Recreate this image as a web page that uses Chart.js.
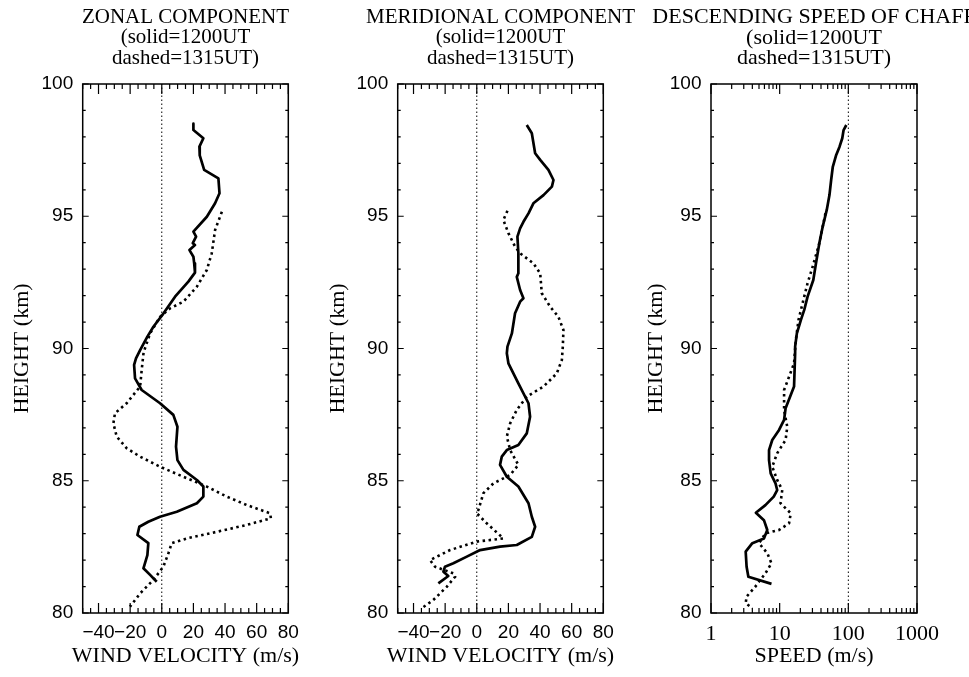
<!DOCTYPE html>
<html>
<head>
<meta charset="utf-8">
<script src="https://cdn.jsdelivr.net/npm/chart.js@4.4.1/dist/chart.umd.min.js"></script>
<style>
  html, body { margin: 0; padding: 0; background: #fff; overflow: hidden; width: 969px; height: 677px; }
  canvas { position: absolute; top: 0; }
</style>
</head>
<body>
<canvas id="zonal" width="371" height="677" style="left:0px"></canvas>
<canvas id="merid" width="361" height="677" style="left:320px"></canvas>
<canvas id="speed" width="348" height="677" style="left:640px"></canvas>
<script>
// heights in km, winds in m/s
var heightRange = [80, 100];
var windRange = [-50, 80];
var speedRange = [1, 1000];
var windRef = 0;
var speedRef = 100;

var zonalSolidH = [98.5, 98.26, 97.95, 97.63, 97.3, 96.75, 96.43, 95.87, 95.49, 94.98, 94.42, 94.23, 93.98, 93.91, 93.72, 93.47, 93.22, 92.87, 92.53, 91.96, 91.32, 90.82, 90.45, 89.94, 89.63, 89.38, 88.87, 88.43, 87.93, 87.49, 87.04, 86.29, 85.78, 85.41, 85.03, 84.78, 84.4, 84.15, 83.83, 83.64, 83.45, 83.26, 82.95, 82.64, 82.19, 81.69, 81.44, 81.18];
var zonalSolidV = [20, 20, 26.3, 23.8, 24, 26.8, 35.8, 36.5, 33.7, 28.5, 20, 21.7, 19.6, 21, 17.5, 20, 20.5, 21, 16.8, 8.4, 1, -5.3, -9.1, -13.7, -16.3, -17.5, -16.9, -12.7, -1.1, 7.3, 9.9, 9, 9.9, 13.7, 22.2, 26.3, 26.3, 22.2, 9.5, -1.1, -8.5, -14.2, -15.4, -8.5, -9.1, -11.6, -7.4, -3.2];
var zonalDashH = [95.17, 94.48, 93.6, 92.97, 92.34, 91.77, 91.52, 91.2, 90.57, 89.85, 89.19, 88.56, 87.93, 87.55, 87.17, 86.67, 86.23, 85.91, 85.53, 85.15, 84.78, 84.4, 84.08, 83.77, 83.58, 83.33, 83.07, 82.82, 82.64, 82.26, 81.75, 81.25, 80.74, 80.24];
var zonalDashV = [38, 33.7, 31.6, 28.5, 22.2, 13.7, 5.3, -1.1, -7.4, -11.5, -12.7, -13.7, -22.2, -29.6, -30.6, -28.5, -22.2, -13.7, -1.1, 13.7, 28.5, 41.1, 53.8, 68.5, 69, 53.8, 34.8, 15.8, 6.3, 4.2, 1, -5.3, -13.7, -20.1];

var meridSolidH = [98.45, 98.14, 97.38, 97.13, 96.75, 96.37, 96.12, 95.8, 95.49, 95.11, 94.79, 94.54, 94.23, 93.6, 92.84, 92.71, 92.21, 91.9, 91.77, 91.33, 90.57, 90.07, 89.82, 89.44, 88.68, 87.93, 87.42, 86.79, 86.35, 86.16, 85.91, 85.6, 85.15, 84.78, 84.15, 83.64, 83.26, 82.88, 82.57, 82.51, 82.38, 82.13, 81.88, 81.75, 81.56, 81.4, 81.12];
var meridSolidV = [31.6, 34.8, 36.9, 40.1, 45.3, 48.5, 47.5, 42.2, 35.8, 32.7, 29.5, 27.4, 25.7, 26.3, 26.3, 25.3, 27.4, 29.5, 27.4, 24.2, 22.2, 19.4, 19, 20, 26.3, 32.7, 33.7, 31.6, 26.3, 19, 15.8, 14.7, 19, 26.3, 32.7, 34.8, 36.9, 34.8, 25.3, 14.7, 2.1, -6.3, -14.8, -20.1, -21.1, -18, -24.3];
var meridDashH = [95.21, 94.86, 94.36, 93.85, 93.6, 93.22, 92.84, 92.09, 91.58, 91.2, 90.7, 90.07, 89.57, 89.06, 88.56, 88.18, 87.68, 87.17, 86.67, 86.16, 85.6, 85.22, 84.9, 84.53, 83.89, 83.77, 83.39, 82.82, 82.7, 82.38, 82, 81.75, 81.5, 81.37, 80.99, 80.49, 80.18];
var meridDashV = [19.4, 16.8, 20, 24.2, 27.4, 35.8, 40.1, 41.1, 46.4, 51.6, 54.8, 54.4, 53.8, 50.6, 42.2, 31.6, 25.3, 21.1, 19, 21.1, 26.3, 21.1, 10.5, 4.2, 1, 0, 6.3, 16.8, 0, -16.9, -29.6, -26.4, -14.8, -13.7, -19, -27.5, -34.8];

var speedSolidH = [98.45, 98.26, 97.95, 97.63, 97.32, 96.87, 96.37, 95.8, 95.24, 94.6, 93.98, 93.22, 92.59, 91.96, 91.46, 91.08, 90.57, 90.07, 89.82, 88.56, 87.74, 87.3, 86.92, 86.54, 86.16, 85.78, 85.28, 84.9, 84.65, 84.4, 84.08, 83.79, 83.51, 83.14, 82.82, 82.64, 82.32, 81.75, 81.37, 81.1];
var speedSolidV = [93.5, 85.3, 81.6, 74.5, 66.6, 59.4, 56.2, 53.1, 48.5, 42.3, 37.8, 33.8, 30.9, 25.5, 22.8, 20.4, 17.8, 16.8, 16.8, 16.2, 12.2, 11.6, 9.8, 7.8, 7, 7, 7.4, 8.7, 9.2, 8.2, 6.2, 4.5, 5.9, 6.6, 5.9, 4, 3.2, 3.3, 3.5, 7.6];
var speedDashH = [95.11, 94.6, 93.98, 93.09, 92.47, 91.7, 91.08, 90.32, 89.44, 88.93, 88.43, 87.67, 87.04, 86.54, 86.04, 85.53, 85.03, 84.65, 84.15, 83.77, 83.39, 83.14, 83.01, 82.64, 82.26, 81.88, 81.5, 80.99, 80.62, 80.37, 80.18];
var speedDashV = [46.4, 42.3, 37.8, 30.2, 25.5, 21.5, 18.8, 17.2, 16.2, 13.7, 11.6, 11.6, 12.9, 12.2, 9.2, 7.8, 9.2, 10.9, 10.3, 14.5, 13.7, 9.8, 6.2, 5, 6.6, 7.6, 6.2, 4.4, 3.3, 3.2, 4];

var titleLines = ['(solid=1200UT', 'dashed=1315UT)'];

var SERIF = "'Liberation Serif', 'DejaVu Serif', serif";
var SANS = "'Liberation Sans', Arial, sans-serif";

function pairs(xs, ys) {
    return xs.map(function(x, i) { return { x: x, y: ys[i] }; });
}

// box round the plot with ticks pointing inwards, like the old IDL plots
var framePlugin = {
    id: 'frame',
    afterDraw: function(chart) {
        var ctx = chart.ctx;
        var a = chart.chartArea;
        var xs = chart.scales.x, ys = chart.scales.y;
        ctx.save();
        ctx.strokeStyle = '#000';
        ctx.lineWidth = 1.5;
        ctx.strokeRect(a.left, a.top, a.right - a.left, a.bottom - a.top);
        ctx.lineWidth = 1.2;
        ctx.beginPath();
        xs.ticks.forEach(function(t) {
            var px = xs.getPixelForValue(t.value);
            var len = xs.isMajorTick(t.value) ? 10 : 5;
            ctx.moveTo(px, a.bottom); ctx.lineTo(px, a.bottom - len);
            ctx.moveTo(px, a.top); ctx.lineTo(px, a.top + len);
        });
        ys.ticks.forEach(function(t) {
            var py = ys.getPixelForValue(t.value);
            var len = t.value % 5 === 0 ? 6 : 3;
            ctx.moveTo(a.left, py); ctx.lineTo(a.left + len, py);
            ctx.moveTo(a.right, py); ctx.lineTo(a.right - len, py);
        });
        ctx.stroke();
        ctx.restore();
    }
};

function makeChart(id, opts) {
    var ctx = document.getElementById(id).getContext('2d');
    var axisW = opts.axisW;
    var xScale;
    if (opts.log) {
        xScale = {
            type: 'logarithmic',
            min: speedRange[0],
            max: speedRange[1],
            afterBuildTicks: function(s) {
                var t = [];
                for (var d = 1; d < 1000; d *= 10) {
                    for (var m = 1; m < 10; m++) t.push({ value: m * d });
                }
                t.push({ value: 1000 });
                s.ticks = t;
                s.isMajorTick = function(v) { return Math.abs(Math.log10(v) - Math.round(Math.log10(v))) < 1e-9; };
            },
            ticks: {
                autoSkip: false, maxRotation: 0, minRotation: 0, padding: 8,
                color: '#000',
                font: { family: SERIF, size: 22 },
                callback: function(v) {
                    var l = Math.log10(v);
                    return Math.abs(l - Math.round(l)) < 1e-9 ? String(v) : '';
                }
            }
        };
    } else {
        xScale = {
            type: 'linear',
            min: windRange[0],
            max: windRange[1],
            ticks: {
                stepSize: 5, autoSkip: false, maxRotation: 0, minRotation: 0, padding: 8,
                color: '#000',
                font: { family: SANS, size: 19 },
                callback: function(v) {
                    if (v % 20 !== 0) return '';
                    return v < 0 ? '\u2212' + Math.abs(v) : String(v);
                }
            },
            afterBuildTicks: function(s) {
                s.isMajorTick = function(v) { return v % 20 === 0; };
            }
        };
    }
    xScale.grid = { display: false, drawTicks: false };
    xScale.border = { display: false };
    xScale.afterFit = function(s) { s.height = 29.8; };

    var ref = opts.refValue;
    return new Chart(ctx, {
        type: 'scatter',
        data: {
            datasets: [
                {
                    label: 'solid=1200UT',
                    data: pairs(opts.solidV, opts.solidH),
                    showLine: true, borderColor: '#000', borderWidth: 2.7,
                    pointRadius: 0, tension: 0, borderJoinStyle: 'round'
                },
                {
                    label: 'dashed=1315UT',
                    data: pairs(opts.dashV, opts.dashH),
                    showLine: true, borderColor: '#000', borderWidth: 2.6,
                    borderDash: [2.5, 3.5], pointRadius: 0, tension: 0
                },
                {
                    label: 'reference',
                    data: pairs([ref, ref], heightRange),
                    showLine: true, borderColor: '#000', borderWidth: 1,
                    borderDash: [1.5, 2.5], pointRadius: 0
                }
            ]
        },
        options: {
            responsive: false,
            animation: false,
            layout: { padding: 0 },
            plugins: {
                legend: { display: false },
                tooltip: { enabled: false },
                title: {
                    display: true,
                    text: [opts.title].concat(titleLines),
                    color: '#000',
                    font: { family: SERIF, size: opts.titleSize, weight: 'normal', lineHeight: '20.4px' },
                    padding: { top: 7.3, bottom: 15.5 }
                },
                subtitle: {
                    display: true,
                    position: 'bottom',
                    text: opts.xTitle,
                    color: '#000',
                    font: { family: SERIF, size: 22, weight: 'normal', lineHeight: 1.2 },
                    padding: { top: 0, bottom: 7.8 }
                }
            },
            scales: {
                x: xScale,
                y: {
                    type: 'linear',
                    min: heightRange[0],
                    max: heightRange[1],
                    grid: { display: false, drawTicks: false },
                    border: { display: false },
                    ticks: {
                        stepSize: 1, autoSkip: false, padding: 9.5,
                        color: '#000',
                        font: { family: SANS, size: 19 },
                        callback: function(v) { return v % 5 === 0 ? String(v) : ''; }
                    },
                    title: {
                        display: true,
                        text: 'HEIGHT (km)',
                        color: '#000',
                        font: { family: SERIF, size: 22, lineHeight: 1.2 },
                        padding: { top: opts.yTitlePad, bottom: 0 }
                    },
                    afterFit: function(s) { s.width = axisW; }
                },
                yr: {
                    position: 'right',
                    min: heightRange[0],
                    max: heightRange[1],
                    grid: { display: false, drawTicks: false },
                    border: { display: false },
                    ticks: { display: false },
                    afterFit: function(s) { s.width = axisW; }
                }
            }
        },
        plugins: [framePlugin]
    });
}

makeChart('zonal', {
    title: 'ZONAL COMPONENT', xTitle: 'WIND VELOCITY (m/s)', titleSize: 21,
    solidH: zonalSolidH, solidV: zonalSolidV, dashH: zonalDashH, dashV: zonalDashV,
    refValue: windRef, axisW: 82.7, yTitlePad: 9.3
});
makeChart('merid', {
    title: 'MERIDIONAL COMPONENT', xTitle: 'WIND VELOCITY (m/s)', titleSize: 21,
    solidH: meridSolidH, solidV: meridSolidV, dashH: meridDashH, dashV: meridDashV,
    refValue: windRef, axisW: 77.7, yTitlePad: 4.8
});
makeChart('speed', {
    title: 'DESCENDING SPEED OF CHAFF', xTitle: 'SPEED (m/s)', titleSize: 22,
    log: true,
    solidH: speedSolidH, solidV: speedSolidV, dashH: speedDashH, dashV: speedDashV,
    refValue: speedRef, axisW: 71, yTitlePad: 2.8
});
</script>
</body>
</html>
